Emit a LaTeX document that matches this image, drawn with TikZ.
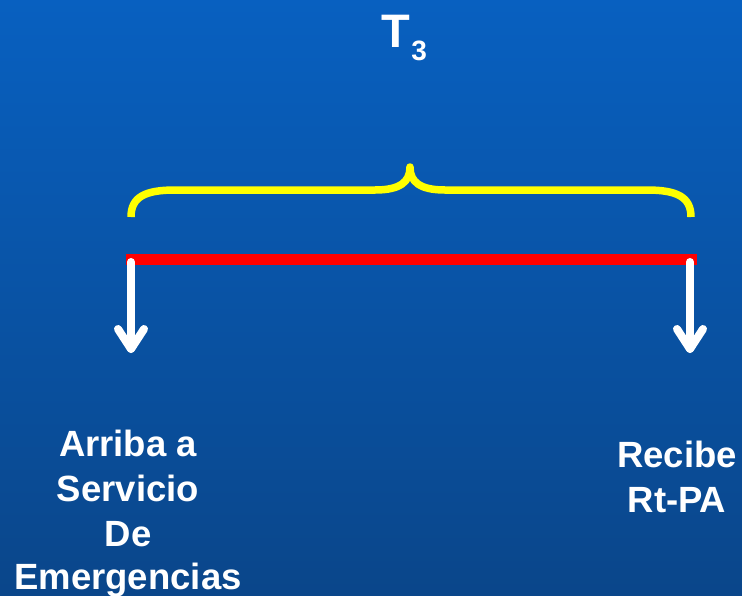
\documentclass[tikz,border=0pt]{standalone}
\usepackage{fontspec}
\setmainfont{Liberation Sans}
\usetikzlibrary{calc}
\definecolor{bgtop}{RGB}{8,96,192}
\definecolor{bgbot}{RGB}{10,70,138}
\definecolor{braceyellow}{RGB}{255,255,0}
\tikzset{
  lbl/.style={text=white,font=\fontsize{36.5}{45}\selectfont\bfseries,anchor=base,inner sep=0pt},
  downarrow/.style={white,line width=8pt,line cap=round,line join=round},
}
\begin{document}
\begin{tikzpicture}[x=1pt,y=-1pt]
\shade[top color=bgtop,bottom color=bgbot] (0,0) rectangle (742,595);
\useasboundingbox (0,0) rectangle (742,595);
% title
\node[text=white,font=\fontsize{47}{50}\selectfont\bfseries,anchor=base west,inner sep=0pt] (T) at (381,47) {T};
\node[text=white,font=\fontsize{28}{30}\selectfont\bfseries,anchor=base west,inner sep=0pt] (sub) at (T.base east) [yshift=-13pt,xshift=1pt] {3};
% brace
\draw[braceyellow,line width=7.5pt,line join=round]
  (131,217) .. controls (131,197) and (145,190) .. (175,190) -- (375,190)
  .. controls (400,190) and (410,182) .. (410,167)
  .. controls (410,182) and (420,190) .. (445,190) -- (647,190)
  .. controls (677,190) and (691,197) .. (691,217);
% red bar
\fill[red] (126,254) rectangle (697,265);
% arrows
\coordinate (ls) at (131,262);
\coordinate (le) at (131,349);
\coordinate (rs) at (690,262);
\coordinate (re) at (690,349);
\draw[downarrow] (ls) -- (le);
\draw[downarrow] ($(le)+(-13,-20)$) -- (le) -- ($(le)+(13,-20)$);
\draw[downarrow] (rs) -- (re);
\draw[downarrow] ($(re)+(-13,-20)$) -- (re) -- ($(re)+(13,-20)$);
% labels
\node[lbl] (l1) at (128,456) {Arriba a};
\node[lbl] (l2) at (128,501) {Servicio};
\node[lbl] (l3) at (128,546) {De};
\node[lbl] (l4) at (128,589) {Emergencias};
\node[lbl] (r1) at (677,467) {Recibe};
\node[lbl] (r2) at (677,512) {Rt-PA};
\end{tikzpicture}
\end{document}
